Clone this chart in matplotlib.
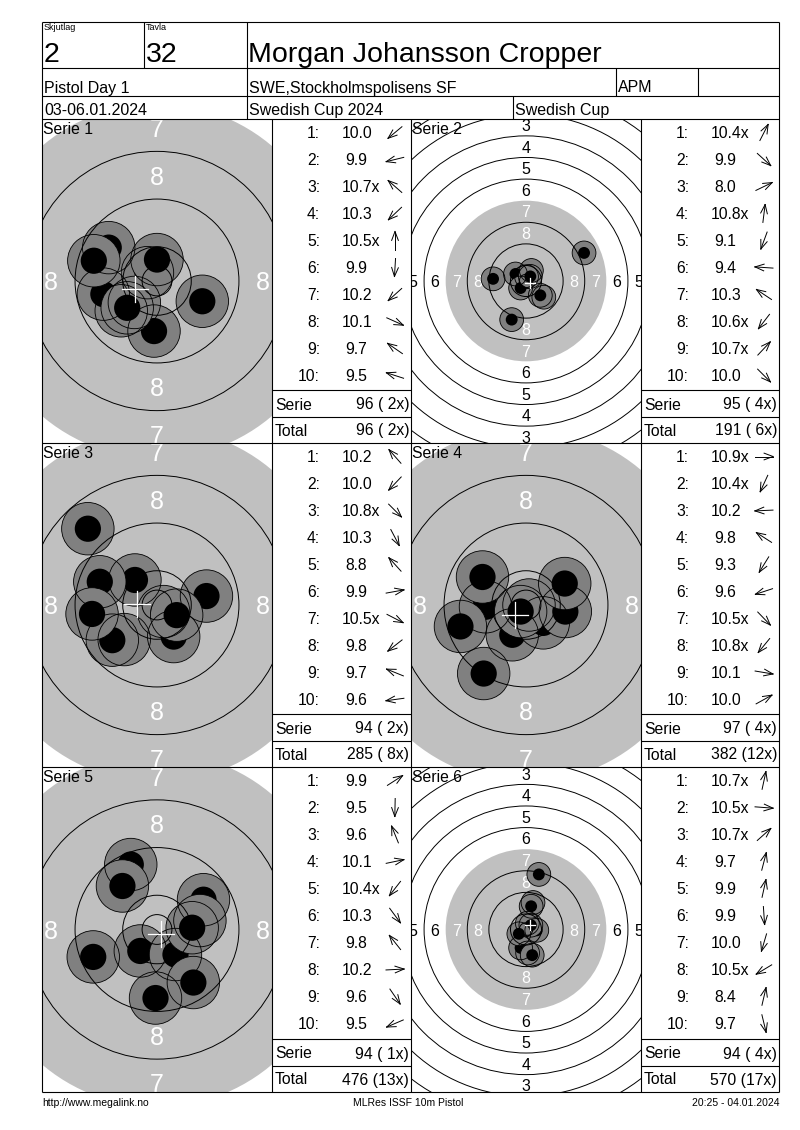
import numpy as np
import matplotlib
matplotlib.use('Agg')
import matplotlib.pyplot as plt
from matplotlib.patches import Circle

plt.rcParams['font.family'] = ['Liberation Sans', 'DejaVu Sans']

# ---- header / footer texts
relay = '2'
target_no = '32'
shooter = 'Morgan Johansson Cropper'
event = 'Pistol Day 1'
club = 'SWE,Stockholmspolisens SF'
shooter_class = 'APM'
dates = '03-06.01.2024'
competition = 'Swedish Cup 2024'
cup = 'Swedish Cup'
footer_left = 'http://www.megalink.no'
footer_mid = 'MLRes ISSF 10m Pistol'
footer_right = '20:25 - 04.01.2024'

# ---- shot values per series
s1_scores = ['10.0', '9.9', '10.7x', '10.3', '10.5x', '9.9', '10.2', '10.1', '9.7', '9.5']
s2_scores = ['10.4x', '9.9', '8.0', '10.8x', '9.1', '9.4', '10.3', '10.6x', '10.7x', '10.0']
s3_scores = ['10.2', '10.0', '10.8x', '10.3', '8.8', '9.9', '10.5x', '9.8', '9.7', '9.6']
s4_scores = ['10.9x', '10.4x', '10.2', '9.8', '9.3', '9.6', '10.5x', '10.8x', '10.1', '10.0']
s5_scores = ['9.9', '9.5', '9.6', '10.1', '10.4x', '10.3', '9.8', '10.2', '9.6', '9.5']
s6_scores = ['10.7x', '10.5x', '10.7x', '9.7', '9.9', '9.9', '10.0', '10.5x', '8.4', '9.7']

# shot positions in mm (x right, y up)
s1_x = [-6.0, -9.0, -1.6, -3.8, 0.0, -0.5, -5.0, 7.6, -8.1, -10.6]
s1_y = [-5.0, -2.2, 1.4, -3.6, 3.6, -8.4, -4.5, -3.4, 5.6, 3.4]
s2_x = [2.0, 6.6, 21.5, 0.2, -5.3, -12.2, -3.9, -2.0, 1.6, 5.3]
s2_y = [3.9, -6.0, 10.4, 1.6, -14.3, 0.8, 2.6, -2.6, 1.7, -5.3]
s3_x = [-3.7, -5.5, 1.1, 2.8, -11.6, 8.3, 3.3, -7.5, -9.6, -10.9]
s3_y = [4.2, -5.8, -1.1, -5.3, 12.8, 1.5, -1.7, -5.9, 3.9, -1.5]
s4_x = [0.5, -2.3, -6.8, -7.3, -7.1, -11.0, 2.9, -0.9, 6.6, 6.5]
s4_y = [0.0, -5.0, -0.3, 4.7, -11.5, -3.6, -3.0, -1.1, -1.1, 3.6]
s5_x = [7.8, -0.25, -4.4, 7.2, -2.8, 3.1, -5.8, 5.9, 6.1, -10.7]
s5_y = [5.0, -11.5, 10.9, 1.5, -3.6, -4.2, 7.3, 0.3, -8.9, -4.6]
s6_x = [0.5, 4.0, 1.8, 2.6, 1.9, 0.6, -2.0, -2.65, 4.75, 2.3]
s6_y = [2.3, -0.3, 1.6, 10.0, 8.6, -8.7, -6.8, -1.6, 20.4, -9.5]

series_names = ['Serie 1', 'Serie 2', 'Serie 3', 'Serie 4', 'Serie 5', 'Serie 6']
zoomed = [True, False, True, True, True, False]

# ISSF 10m pistol ring radii (mm), rings 1..10, inner ten
ring_numbers = [1, 2, 3, 4, 5, 6, 7, 8, 9, 10]
ring_radius = [77.75, 69.75, 61.75, 53.75, 45.75, 37.75, 29.75, 21.75, 13.75, 5.75]
inner_ten = 2.5
black_ring = 7

series = [
    (s1_scores, s1_x, s1_y), (s2_scores, s2_x, s2_y), (s3_scores, s3_x, s3_y),
    (s4_scores, s4_x, s4_y), (s5_scores, s5_x, s5_y), (s6_scores, s6_x, s6_y),
]

W, H = 800, 1130
fig = plt.figure(figsize=(W / 100, H / 100), dpi=100)
page = fig.add_axes([0, 0, 1, 1])
page.set_xlim(0, W)
page.set_ylim(H, 0)
page.axis('off')
page.set_zorder(5)
page.patch.set_visible(False)

LW = 0.8
FS = 11.3


def hline(x0, x1, y):
    page.plot([x0, x1], [y, y], color='black', lw=LW, solid_capstyle='butt')


def vline(x, y0, y1):
    page.plot([x, x], [y0, y1], color='black', lw=LW, solid_capstyle='butt')


L, R, T, B = 42, 779, 22, 1092
rows_top = [119, 443, 767]
rows_bot = [443, 767, 1092]
cols = [(42, 272, 411), (411, 641, 779)]  # target left, table left, table right

# ---- frame and header grid
hline(L, R, T)
hline(L, R, B)
vline(L, T, B)
vline(R, T, B)
hline(L, R, 68)
hline(L, R, 96)
hline(L, R, 119)
vline(144, T, 68)
vline(247, T, 119)
vline(616, 68, 96)
vline(698, 68, 96)
vline(513, 96, 119)

page.text(44, 30, 'Skjutlag', fontsize=6.5)
page.text(146, 30, 'Tavla', fontsize=6.5)
page.text(44, 62, relay, fontsize=20.5)
page.text(146, 62, target_no, fontsize=20.5)
page.text(248, 62, shooter, fontsize=20.5)
page.text(44, 92.5, event, fontsize=11.5)
page.text(249, 92.5, club, fontsize=11.5)
page.text(618, 92.5, shooter_class, fontsize=11.5)
page.text(44, 115, dates, fontsize=11.5)
page.text(249, 115, competition, fontsize=11.5)
page.text(515, 115, cup, fontsize=11.5)

page.text(42, 1106, footer_left, fontsize=7.5)
page.text(408, 1106, footer_mid, fontsize=7.5, ha='center')
page.text(779, 1106, footer_right, fontsize=7.5, ha='right')

for yb in rows_bot[:-1]:
    hline(L, R, yb)
for tx0, tbl, tx1 in cols:
    vline(tbl, 119, B)
vline(411, 119, B)

total = 0
total_x = 0
for k, (scores, xs, ys) in enumerate(series):
    r, c = divmod(k, 2)
    y0, y1 = rows_top[r], rows_bot[r]
    x0, tbl, x1 = cols[c]
    scale = 5.96 if zoomed[k] else 2.70  # px per mm

    # ---- target panel
    ax = fig.add_axes([x0 / W, 1 - y1 / H, (tbl - x0) / W, (y1 - y0) / H])
    hw = (tbl - x0) / 2 / scale
    hh = (y1 - y0) / 2 / scale
    ax.set_xlim(-hw, hw)
    ax.set_ylim(-hh, hh)
    ax.set_aspect('auto')
    ax.axis('off')

    ax.add_patch(Circle((0, 0), ring_radius[black_ring - 1], fc='#c0c0c0', ec='none', zorder=1))
    lab_size = 18 if zoomed[k] else 11.5
    for n, rad in zip(ring_numbers, ring_radius):
        if n > 8:
            continue
        d = rad - 4.0
        col = 'white' if n >= black_ring else 'black'
        for px, py in [(0, d), (0, -d), (-d, 0), (d, 0)]:
            if abs(px) > hw or abs(py) > hh:
                continue
            ax.text(px, py, str(n), fontsize=lab_size, color=col, ha='center',
                    va='center_baseline', clip_on=True, zorder=2)

    for i, (sx, sy) in enumerate(zip(xs, ys)):
        ax.add_patch(Circle((sx, sy), 4.4, fc='#808080', ec='none', zorder=3 + 2 * i))
        ax.add_patch(Circle((sx, sy), 2.2, fc='black', ec='none', zorder=4 + 2 * i))
    for n, rad in zip(ring_numbers, ring_radius):
        if n == black_ring:
            continue
        ax.add_patch(Circle((0, 0), rad, fill=False, ec='black', lw=0.7, zorder=30))
    ax.add_patch(Circle((0, 0), inner_ten, fill=False, ec='black', lw=0.7, zorder=30))
    for sx, sy in zip(xs, ys):
        ax.add_patch(Circle((sx, sy), 4.4, fill=False, ec='black', lw=0.6, zorder=31))

    mx, my = np.mean(xs), np.mean(ys)
    arm = (13 if zoomed[k] else 5) / scale
    ax.plot([mx - arm, mx + arm], [my, my], color='white', lw=0.9, zorder=40)
    ax.plot([mx, mx], [my - arm, my + arm], color='white', lw=0.9, zorder=40)

    page.text(x0 + 1, y0 + 15, series_names[k], fontsize=FS)

    # ---- score table
    ser = 0
    nx = 0
    for i, (s, sx, sy) in enumerate(zip(scores, xs, ys)):
        yc = y0 + 13.5 + 27 * i
        page.text(tbl + 48, yc + 5.8, f'{i + 1}:', fontsize=FS, ha='right')
        val = float(s.rstrip('x'))
        page.text(tbl + (70 if val >= 10 else 73), yc + 5.8, s, fontsize=FS)
        ser += int(val)
        nx += s.endswith('x')
        # direction arrow toward the shot
        ang = np.arctan2(sy, sx)
        ux, uy = np.cos(ang), -np.sin(ang)
        cx = tbl + 123
        ln = 9.0
        tipx, tipy = cx + ux * ln, yc + uy * ln
        page.plot([cx - ux * ln, tipx], [yc - uy * ln, tipy], color='black', lw=0.7)
        for da in (0.36, -0.36):
            hx = np.cos(ang + np.pi + da)
            hy = -np.sin(ang + np.pi + da)
            page.plot([tipx, tipx + hx * 9.5], [tipy, tipy + hy * 9.5], color='black', lw=0.7)
    total += ser
    total_x += nx

    ya, yb = y1 - 53, y1 - 26
    hline(tbl, x1, ya)
    hline(tbl, x1, yb)
    page.text(tbl + 3, ya + 19.5, 'Serie', fontsize=FS)
    page.text(x1 - 2, ya + 19.5, f'{ser} ({nx:2d}x)', fontsize=FS, ha='right')
    page.text(tbl + 3, yb + 18.5, 'Total', fontsize=FS)
    page.text(x1 - 2, yb + 18.5, f'{total} ({total_x:2d}x)', fontsize=FS, ha='right')

fig.savefig('out.png', dpi=100)
